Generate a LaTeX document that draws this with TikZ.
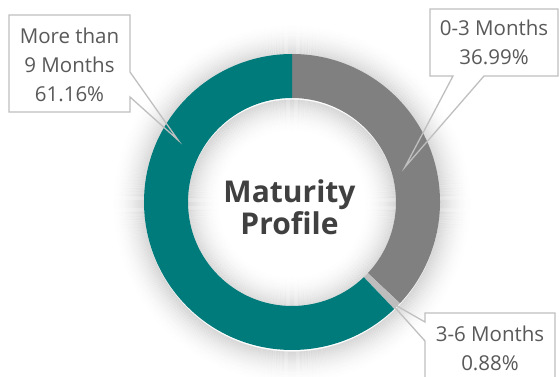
\documentclass[tikz,border=0pt]{standalone}
\usepackage{fontspec}
\setmainfont{Open Sans}
\begin{document}
\begin{tikzpicture}[x=1pt,y=-1pt,
  lbl/.style={font=\fontsize{20.5}{29}\selectfont, text=labeltext, align=center, inner sep=0pt},
  ttl/.style={font=\fontsize{30}{28}\selectfont\bfseries, text=titletext, align=center, inner sep=0pt},
  callout/.style={draw=calloutline, line width=1.3pt, line join=miter},
]
\definecolor{labeltext}{HTML}{595959}
\definecolor{titletext}{HTML}{404040}
\definecolor{calloutline}{HTML}{BFBFBF}
\definecolor{segA}{HTML}{808080}
\definecolor{segB}{HTML}{BDBDBD}
\definecolor{segC}{HTML}{007B7B}
\useasboundingbox (0,0) rectangle (559,377);
\fill[white] (0,0) rectangle (559,377);
% soft shadow around ring
\begin{scope}[shift={(292,204)}]
  \foreach \i in {0,...,34}{
    \draw[black, line width=1.1pt, opacity={0.13*(1-\i/35)*(1-\i/35)}] (0,0) circle[radius={148+\i}];
  }
  \foreach \i in {0,...,34}{
    \draw[black, line width=1.1pt, opacity={0.13*(1-\i/35)*(1-\i/35)}] (0,0) circle[radius={104-\i}];
  }
\end{scope}
% ring segments
\begin{scope}[shift={(292,202)}]
  \fill[segA] (-90:148) arc[start angle=-90, end angle=43.16, radius=148] -- (43.16:104) arc[start angle=43.16, end angle=-90, radius=104] -- cycle;
  \fill[segB] (43.16:148) arc[start angle=43.16, end angle=46.33, radius=148] -- (46.33:104) arc[start angle=46.33, end angle=43.16, radius=104] -- cycle;
  \fill[segC] (46.33:148) arc[start angle=46.33, end angle=270, radius=148] -- (270:104) arc[start angle=270, end angle=46.33, radius=104] -- cycle;
\end{scope}
% centre title
\node[ttl, anchor=base] (title) at (289.5,234) {Maturity\\Profile};
% callouts
\coordinate (tipC) at (178,140);
\coordinate (tipA) at (405,167);
\coordinate (tipB) at (390,302);
\fill[white] (9,15) rectangle (130,112);
\draw[callout] (9,15) -- (130,15) -- (130,72) -- (tipC) -- (130,97) -- (130,112) -- (9,112) -- cycle;
\fill[white] (430,9) rectangle (558,76);
\draw[callout] (430,9) -- (558,9) -- (558,76) -- (484,76) -- (tipA) -- (453,76) -- (430,76) -- cycle;
\fill[white] (425,313) rectangle (555,380);
\draw[callout] (425,313) -- (555,313) -- (555,380) -- (425,380) -- (425,341) -- (tipB) -- (425,322) -- cycle;
\node[lbl, anchor=base] (lblC) at (69.5,102) {More than\\9 Months\\61.16\%};
\node[lbl, anchor=base] (lblA) at (494,65) {0-3 Months\\36.99\%};
\node[lbl, anchor=base] (lblB) at (490,370) {3-6 Months\\0.88\%};
\end{tikzpicture}
\end{document}
